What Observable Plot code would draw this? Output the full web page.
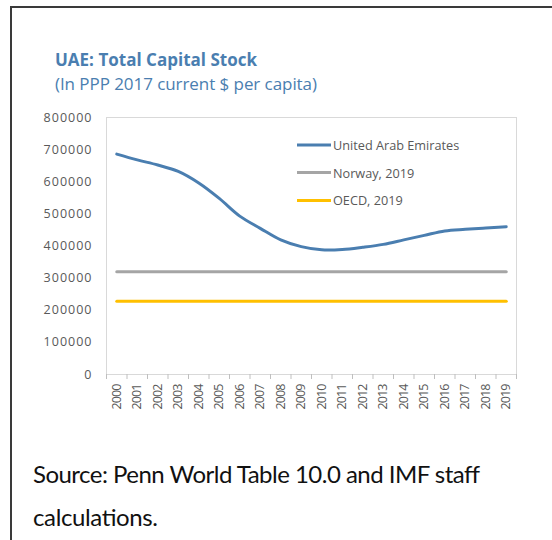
<!DOCTYPE html>
<html><head><meta charset="utf-8">
<script src="https://cdn.jsdelivr.net/npm/d3@7"></script>
<script src="https://cdn.jsdelivr.net/npm/@observablehq/plot@0.6"></script>
<style>
body{margin:0;background:#fff;font-family:"Open Sans",sans-serif;}
#wrap{position:relative;width:552px;height:540px;overflow:hidden;}
#border{position:absolute;left:10px;top:6px;width:560px;height:560px;border-left:2px solid #3a3a3a;border-top:2px solid #3a3a3a;}
#plot{position:absolute;left:0;top:0;}
#over{position:absolute;left:0;top:0;}
g[aria-label="y-axis tick label"] text{letter-spacing:1px;}
g[aria-label="x-axis tick label"] text{letter-spacing:-0.9px;}
</style></head>
<body>
<div id="wrap">
<div id="border"></div>
<div id="plot"></div>
<svg id="over" width="552" height="540" font-family="Open Sans, sans-serif">
  <text x="55" y="65.7" font-size="17" font-weight="bold" fill="#4a7eb0" textLength="202" lengthAdjust="spacing">UAE: Total Capital Stock</text>
  <text x="55" y="90" font-size="17" fill="#4a7eb0" textLength="262" lengthAdjust="spacing">(In PPP 2017 current $ per capita)</text>
  <line x1="297" x2="331" y1="145" y2="145" stroke="#4a7eb0" stroke-width="3"/>
  <text x="333" y="150" font-size="12.7" fill="#595959">United Arab Emirates</text>
  <line x1="297" x2="331" y1="172.5" y2="172.5" stroke="#a5a5a5" stroke-width="3"/>
  <text x="333" y="177.5" font-size="12.7" fill="#595959">Norway, 2019</text>
  <line x1="297" x2="331" y1="200.5" y2="200.5" stroke="#ffc000" stroke-width="3"/>
  <text x="333" y="205" font-size="12.7" fill="#595959">OECD, 2019</text>
  <text x="33" y="483" font-family="Lato, sans-serif" font-size="24" fill="#111" textLength="447" lengthAdjust="spacing">Source: Penn World Table 10.0 and IMF staff</text>
  <text x="33" y="525.5" font-family="Lato, sans-serif" font-size="24" fill="#111" textLength="125" lengthAdjust="spacing">calculations.</text>
</svg>
</div>
<script>
const years = [2000,2001,2002,2003,2004,2005,2006,2007,2008,2009,2010,2011,2012,2013,2014,2015,2016,2017,2018,2019];
const uae = [686000,668000,652000,632000,596000,548000,493000,455000,419000,398000,388000,389000,396000,405000,419000,433000,447000,452000,456000,460000];
const norway = [320000,320000,320000,320000,320000,320000,320000,320000,320000,320000,320000,320000,320000,320000,320000,320000,320000,320000,320000,320000];
const oecd = [228000,228000,228000,228000,228000,228000,228000,228000,228000,228000,228000,228000,228000,228000,228000,228000,228000,228000,228000,228000];
const yTicks = [0,100000,200000,300000,400000,500000,600000,700000,800000];

const rows = (vals) => years.map((y,i)=>({year:y, value:vals[i]}));
const bounds = [years[0]-0.5, ...years.map(y=>y+0.5)];

const chart = Plot.plot({
  width: 552, height: 540,
  marginTop: 117, marginBottom: 166, marginLeft: 106, marginRight: 36,
  style: {fontFamily: "Open Sans, sans-serif", background: "transparent"},
  x: {domain: [years[0]-0.5, years[years.length-1]+0.5]},
  y: {domain: [0, 800000]},
  marks: [
    Plot.frame({stroke: "#d9d9d9"}),
    Plot.axisY({ticks: yTicks, tickSize: 0, tickPadding: 14, tickFormat: d => String(d), fill: "#595959", fontSize: 12.5, label: null}),
    Plot.axisX({ticks: bounds, tickSize: 5, stroke: "#bfbfbf", tickFormat: () => "", label: null}),
    Plot.axisX({ticks: years, tickSize: 0, tickPadding: 10, tickRotate: -90, tickFormat: d => String(d), fill: "#595959", fontSize: 12.5, label: null}),
    Plot.lineY(rows(oecd), {x: "year", y: "value", stroke: "#ffc000", strokeWidth: 3}),
    Plot.lineY(rows(norway), {x: "year", y: "value", stroke: "#a5a5a5", strokeWidth: 3}),
    Plot.lineY(rows(uae), {x: "year", y: "value", stroke: "#4a7eb0", strokeWidth: 3, curve: "catmull-rom"})
  ]
});
document.getElementById("plot").appendChild(chart);
</script>
</body></html>
